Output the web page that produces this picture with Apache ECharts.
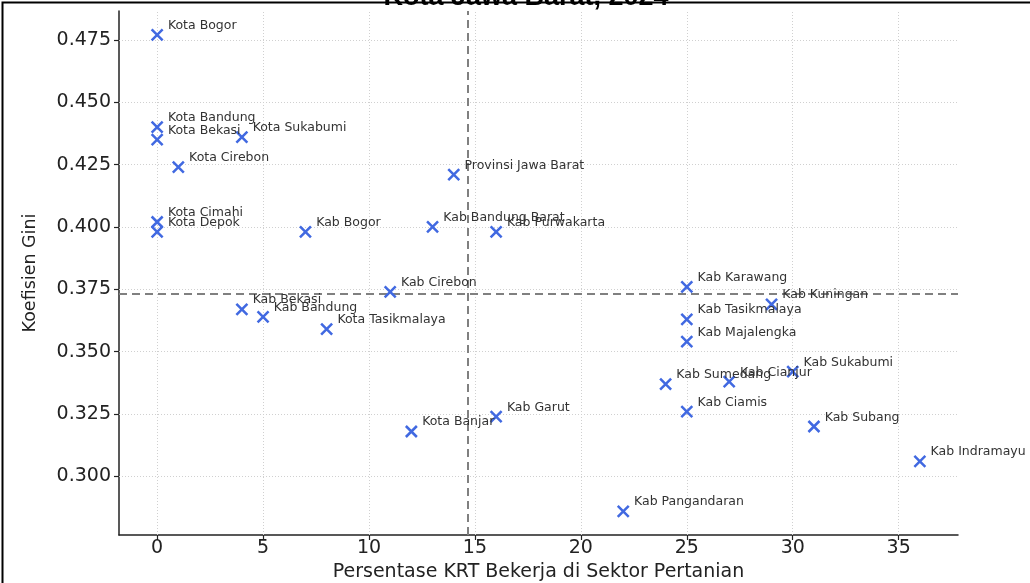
<!DOCTYPE html>
<html><head><meta charset="utf-8">
<script src="https://cdn.jsdelivr.net/npm/echarts@6/dist/echarts.min.js"></script>
<style>html,body{margin:0;padding:0;background:#fff;overflow:hidden}#c{width:1030px;height:583px}</style>
</head><body><div id="c"></div>
<script>
const names = ["Kota Bogor","Kota Bandung","Kota Bekasi","Kota Sukabumi","Kota Cirebon","Kota Cimahi","Kota Depok","Kab Bogor","Provinsi Jawa Barat","Kab Bandung Barat","Kab Purwakarta","Kab Cirebon","Kab Bekasi","Kab Bandung","Kota Tasikmalaya","Kab Karawang","Kab Kuningan","Kab Tasikmalaya","Kab Majalengka","Kab Sukabumi","Kab Cianjur","Kab Sumedang","Kab Ciamis","Kab Subang","Kab Indramayu","Kab Garut","Kota Banjar","Kab Pangandaran"];
const pctAgri = [0,0,0,4,1,0,0,7,14,13,16,11,4,5,8,25,29,25,25,30,27,24,25,31,36,16,12,22];
const gini = [0.477,0.440,0.435,0.436,0.424,0.402,0.398,0.398,0.421,0.400,0.398,0.374,0.367,0.364,0.359,0.376,0.369,0.363,0.354,0.342,0.338,0.337,0.326,0.320,0.306,0.324,0.318,0.286];
const meanX = 14.64;
const meanY = 0.3734;
const xTicks = [0,5,10,15,20,25,30,35];
const yTicks = [0.300,0.325,0.350,0.375,0.400,0.425,0.450,0.475];
const titleText = "Kota Jawa Barat, 2024";
const xTitle = "Persentase KRT Bekerja di Sektor Pertanian";
const yTitle = "Koefisien Gini";

const data = names.map((n,i)=>[pctAgri[i], gini[i], n]);
const F = "DejaVu Sans";
const gridStyle = {color:'#d0d0d0', width:1, type:[1,2]};
const gridLines = xTicks.map(v=>({xAxis:v, lineStyle:gridStyle}))
  .concat(yTicks.map(v=>({yAxis:v, lineStyle:gridStyle})));

const chart = echarts.init(document.getElementById('c'), null, {renderer:'canvas'});
chart.setOption({
  animation:false,
  backgroundColor:'#fff',
  grid:{left:119, right:72, top:11, bottom:48, containLabel:false, outerBoundsMode:'none'},
  xAxis:{type:'value', min:-1.8, max:37.8,
    name:xTitle, nameLocation:'middle', nameGap:24,
    nameTextStyle:{fontFamily:F, fontSize:19, color:'#222'},
    axisLine:{show:true, onZero:false, lineStyle:{color:'#222', width:1.5}},
    axisTick:{show:true, length:5, lineStyle:{color:'#222', width:1.2}, customValues:xTicks},
    axisLabel:{fontFamily:F, fontSize:19, color:'#222', margin:4, customValues:xTicks, formatter:v=>String(v)},
    splitLine:{show:false}},
  yAxis:{type:'value', min:0.2765, max:0.4866,
    name:yTitle, nameLocation:'middle', nameGap:80, nameRotate:90,
    nameTextStyle:{fontFamily:F, fontSize:17.5, color:'#222'},
    axisLine:{show:true, onZero:false, lineStyle:{color:'#222', width:1.5}},
    axisTick:{show:true, length:5, lineStyle:{color:'#222', width:1.2}, customValues:yTicks},
    axisLabel:{fontFamily:F, fontSize:19, color:'#222', margin:8, customValues:yTicks, formatter:v=>Number(v).toFixed(3)},
    splitLine:{show:false}},
  graphic:[
    {type:'rect', left:0, top:0, z:100, silent:true, shape:{x:7, y:11, width:1060, height:620},
      style:{fill:'none', stroke:'#000', lineWidth:2}},
    {type:'text', z:100, silent:true, style:{text:titleText, x:526, y:-16, textAlign:'center', textVerticalAlign:'top',
      font:'bold 27px "Liberation Sans"', fill:'#000'}}
  ],
  series:[
    {type:'scatter', data:[], silent:true,
      markLine:{silent:true, symbol:'none', precision:6, label:{show:false}, animation:false, z:1, data:gridLines}},
    {type:'scatter', data:data, z:5,
      symbol:'path://M0,0L10,10M10,0L0,10', symbolSize:11,
      itemStyle:{color:'rgba(0,0,0,0)', borderColor:'#4169E1', borderWidth:2.5, opacity:1},
      label:{show:true, position:[17.5,-2.5], align:'left', verticalAlign:'middle', formatter:p=>p.data[2],
        fontFamily:F, fontSize:12.5, color:'#333'},
      markLine:{silent:true, symbol:'none', precision:6, label:{show:false}, animation:false,
        lineStyle:{color:'#808080', width:2, type:[8,5]},
        data:[{xAxis:meanX},{yAxis:meanY}]}}
  ]
});
</script></body></html>
